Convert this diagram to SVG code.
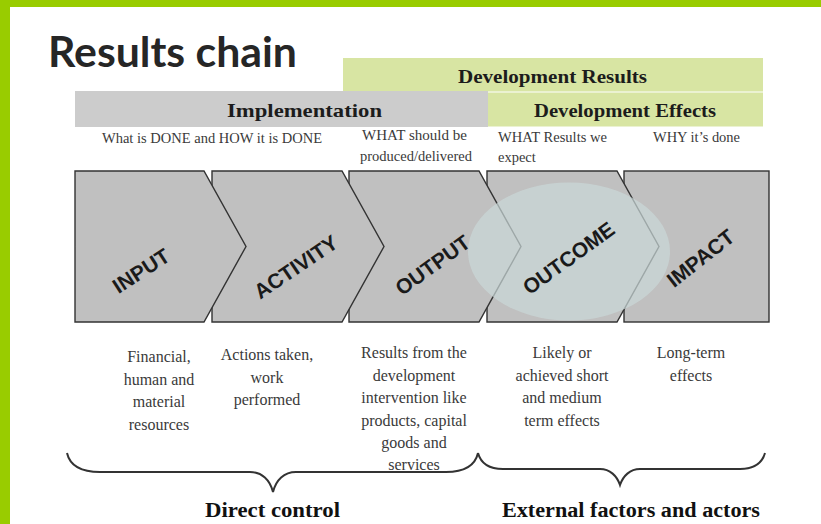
<svg xmlns="http://www.w3.org/2000/svg" width="821" height="524" viewBox="0 0 821 524">
<style>
.hdr{font-family:"Liberation Serif",serif;font-weight:bold;font-size:19px;fill:#1c1c1c}
.sub{font-family:"Liberation Serif",serif;font-size:14.5px;fill:#3a3a3a}
.body{font-family:"Liberation Serif",serif;font-size:16px;fill:#3a3a3a;text-anchor:middle}
.lbl{font-family:"Liberation Sans",Arial,sans-serif;font-weight:bold;font-size:21px;fill:#1a1a1a;text-anchor:middle}
.chev{fill:#c0c0c0;stroke:#333;stroke-width:1.4}
.brace{fill:none;stroke:#333;stroke-width:2}
.foot{font-family:"Liberation Serif",serif;font-weight:bold;font-size:20px;fill:#111}
</style>
<rect width="821" height="524" fill="#ffffff"/>
<rect x="0" y="0" width="821" height="7" fill="#99cc00"/>
<rect x="0" y="0" width="10" height="524" fill="#99cc00"/>
<text x="48" y="67" font-family="Lato,'Liberation Sans',sans-serif" font-weight="bold" font-size="42" fill="#262626" textLength="249" lengthAdjust="spacingAndGlyphs">Results chain</text>

<g id="bars">
<rect x="343" y="58" width="420" height="33.5" fill="#d8e5a3"/>
<rect x="75" y="91" width="413" height="36" fill="#cccccc"/>
<rect x="488" y="92.5" width="275" height="34" fill="#d8e5a3"/>
<text class="hdr" x="458" y="83" textLength="189" lengthAdjust="spacingAndGlyphs">Development Results</text>
<text class="hdr" x="227" y="117" textLength="155" lengthAdjust="spacingAndGlyphs">Implementation</text>
<text class="hdr" x="534" y="117" textLength="182" lengthAdjust="spacingAndGlyphs">Development Effects</text>
</g>

<g id="subtitles">
<text class="sub" x="102" y="143" textLength="220" lengthAdjust="spacingAndGlyphs">What is DONE and HOW it is DONE</text>
<text class="sub" x="362" y="140" textLength="105" lengthAdjust="spacingAndGlyphs">WHAT should be</text>
<text class="sub" x="360" y="161" textLength="112" lengthAdjust="spacingAndGlyphs">produced/delivered</text>
<text class="sub" x="498" y="142" textLength="109" lengthAdjust="spacingAndGlyphs">WHAT Results we</text>
<text class="sub" x="498" y="162">expect</text>
<text class="sub" x="653" y="142" textLength="87" lengthAdjust="spacingAndGlyphs">WHY it’s done</text>
</g>

<g id="impact"><rect class="chev" x="624" y="171" width="145" height="151"/></g>
<g id="outcome"><path class="chev" d="M487,171 H617 L659,246.5 L617,322 H487 Z"/></g>
<g id="output"><path class="chev" d="M349,171 H479 L521,246.5 L479,322 H349 Z"/></g>
<g id="activity"><path class="chev" d="M212,171 H342 L384,246.5 L342,322 H212 Z"/></g>
<g id="input"><path class="chev" d="M75,171 H204 L246,246.5 L204,322 H75 Z"/></g>

<ellipse id="highlight" cx="569" cy="251.5" rx="101" ry="69" fill="#cad8d8" opacity="0.7"/>

<g id="labels">
<text class="lbl" transform="translate(145,277) rotate(-33)">INPUT</text>
<text class="lbl" transform="translate(300,273) rotate(-34)">ACTIVITY</text>
<text class="lbl" transform="translate(437,271) rotate(-36)">OUTPUT</text>
<text class="lbl" transform="translate(573,264) rotate(-36)">OUTCOME</text>
<text class="lbl" transform="translate(705,264) rotate(-38)">IMPACT</text>
</g>

<g id="descriptions">
<text class="body" x="159" y="362">Financial,</text>
<text class="body" x="159" y="384.5">human and</text>
<text class="body" x="159" y="407">material</text>
<text class="body" x="159" y="429.5">resources</text>
<text class="body" x="267" y="360">Actions taken,</text>
<text class="body" x="267" y="382.5">work</text>
<text class="body" x="267" y="405">performed</text>
<text class="body" x="414" y="358">Results from the</text>
<text class="body" x="414" y="380.5">development</text>
<text class="body" x="414" y="403">intervention like</text>
<text class="body" x="414" y="425.5">products, capital</text>
<text class="body" x="414" y="448">goods and</text>
<text class="body" x="414" y="470">services</text>
<text class="body" x="562" y="358">Likely or</text>
<text class="body" x="562" y="380.5">achieved short</text>
<text class="body" x="562" y="403">and medium</text>
<text class="body" x="562" y="425.5">term effects</text>
<text class="body" x="691" y="358">Long-term</text>
<text class="body" x="691" y="380.5">effects</text>
</g>

<g id="connectors">
<path class="brace" d="M67,453 C70,466 82,472 100,472 L250,472 C262,472 270,480 273,492 C276,480 284,472 296,472 L446,472 C464,472 475,466 478,453"/>
<path class="brace" d="M478,453 C481,464 490,469 503,469 L600,469 C610,469 617,476 620,485 C623,476 630,469 640,469 L740,469 C753,469 762,464 765,453"/>
</g>

<g id="footers">
<text class="foot" x="205" y="517" textLength="135" lengthAdjust="spacingAndGlyphs">Direct control</text>
<text class="foot" x="502" y="517" textLength="258" lengthAdjust="spacingAndGlyphs">External factors and actors</text>
</g>
</svg>
